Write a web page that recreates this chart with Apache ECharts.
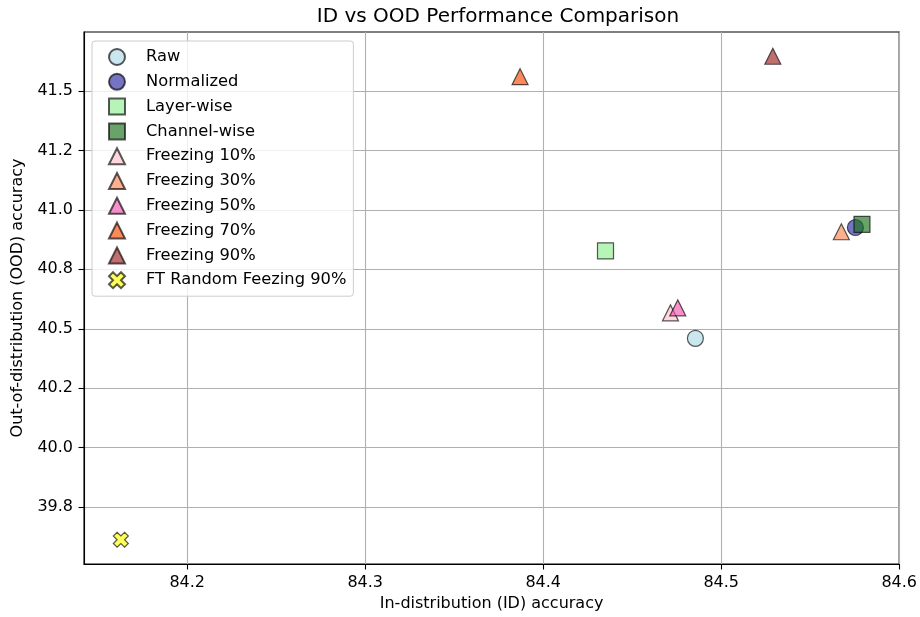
<!DOCTYPE html>
<html><head><meta charset="utf-8">
<script src="https://cdn.jsdelivr.net/npm/echarts@6/dist/echarts.min.js"></script>
<style>html,body{margin:0;padding:0;background:#fff}#c{width:920px;height:617px}</style>
</head><body><div id="c"></div>
<script>
const methods = ['Raw', 'Normalized', 'Layer-wise', 'Channel-wise', 'Freezing 10%', 'Freezing 30%', 'Freezing 50%', 'Freezing 70%', 'Freezing 90%', 'FT Random Feezing 90%'];
const idAccuracy = [84.4855, 84.5754, 84.4350, 84.5791, 84.4715, 84.5675, 84.4756, 84.3870, 84.5290, 84.1627];
const oodAccuracy = [40.460, 40.926, 40.828, 40.939, 40.567, 40.908, 40.588, 41.560, 41.646, 39.613];
const xTicks = [84.2, 84.3, 84.4, 84.5, 84.6];
const xTickLabels = ['84.2', '84.3', '84.4', '84.5', '84.6'];
const yTicks = [39.75, 40.0, 40.25, 40.5, 40.75, 41.0, 41.25, 41.5];
const yTickLabels = ['39.8', '40.0', '40.2', '40.5', '40.8', '41.0', '41.2', '41.5'];

const xPath = 'path://M2,0 L4,2 L6,0 L8,2 L6,4 L8,6 L6,8 L4,6 L2,8 L0,6 L2,4 L0,2 Z';
const markerShapes = ['circle', 'circle', 'rect', 'rect', 'triangle', 'triangle', 'triangle', 'triangle', 'triangle', xPath];
const markerColors = ['#add8e6', '#2929a1', '#90ee90', '#1a721a', '#ffc0cb', '#fc8654', '#f654b1', '#f64b04', '#9e2222', '#ffff00'];

const FONT = 'DejaVu Sans';
function lookup(ticks, labels) {
  return function (v) {
    const i = ticks.findIndex(t => Math.abs(t - v) < 1e-6);
    return i >= 0 ? labels[i] : '';
  };
}

const series = methods.map((name, i) => ({
  name: name,
  type: 'scatter',
  data: [[idAccuracy[i], oodAccuracy[i]]],
  symbol: markerShapes[i],
  symbolSize: i === 9 ? 15 : 16,
  symbolKeepAspect: true,
  itemStyle: { color: markerColors[i], borderColor: '#000', borderWidth: 1.2, opacity: 0.65 },
  emphasis: { disabled: true }
}));

const chart = echarts.init(document.getElementById('c'), null, { renderer: 'canvas' });
chart.setOption({
  animation: false,
  backgroundColor: '#fff',
  title: {
    text: 'ID vs OOD Performance Comparison',
    left: 493, top: 2, textAlign: 'center',
    textStyle: { fontFamily: FONT, fontSize: 20, fontWeight: 'normal', color: '#000' }
  },
  grid: { left: 84, right: 18, top: 32, bottom: 53, show: true, borderColor: '#000', borderWidth: 1.1, backgroundColor: 'transparent' },
  legend: {
    orient: 'vertical', left: 92, top: 41,
    padding: [7, 7, 7, 16],
    itemWidth: 16, itemHeight: 16, itemGap: 6.8,
    selectedMode: false,
    backgroundColor: 'rgba(255,255,255,0.8)',
    borderColor: '#cccccc', borderWidth: 1, borderRadius: 3,
    textStyle: { fontFamily: FONT, fontSize: 16.3, color: '#000', lineHeight: 16, padding: [0, 0, 0, 16] },
    data: methods
  },
  xAxis: {
    type: 'value', min: 84.142, max: 84.6,
    name: 'In-distribution (ID) accuracy', nameLocation: 'middle', nameGap: 31,
    nameTextStyle: { fontFamily: FONT, fontSize: 16, color: '#000' },
    axisLine: { show: true, lineStyle: { color: '#000', width: 1.1 } },
    axisTick: { show: true, customValues: xTicks, length: 5.5, lineStyle: { color: '#000', width: 1.1 } },
    axisLabel: { customValues: xTicks, formatter: lookup(xTicks, xTickLabels), margin: 11, fontFamily: FONT, fontSize: 16, color: '#000' },
    splitLine: { show: true, lineStyle: { color: '#b0b0b0', width: 1.1 } }
  },
  yAxis: {
    type: 'value', min: 39.511, max: 41.748,
    name: 'Out-of-distribution (OOD) accuracy', nameLocation: 'middle', nameGap: 58,
    nameTextStyle: { fontFamily: FONT, fontSize: 16, color: '#000' },
    axisLine: { show: true, lineStyle: { color: '#000', width: 1.1 } },
    axisTick: { show: true, customValues: yTicks, length: 5.5, lineStyle: { color: '#000', width: 1.1 } },
    axisLabel: { customValues: yTicks, formatter: lookup(yTicks, yTickLabels), margin: 11, fontFamily: FONT, fontSize: 16, color: '#000' },
    splitLine: { show: true, lineStyle: { color: '#b0b0b0', width: 1.1 } }
  },
  series: series
});
</script>
</body></html>
